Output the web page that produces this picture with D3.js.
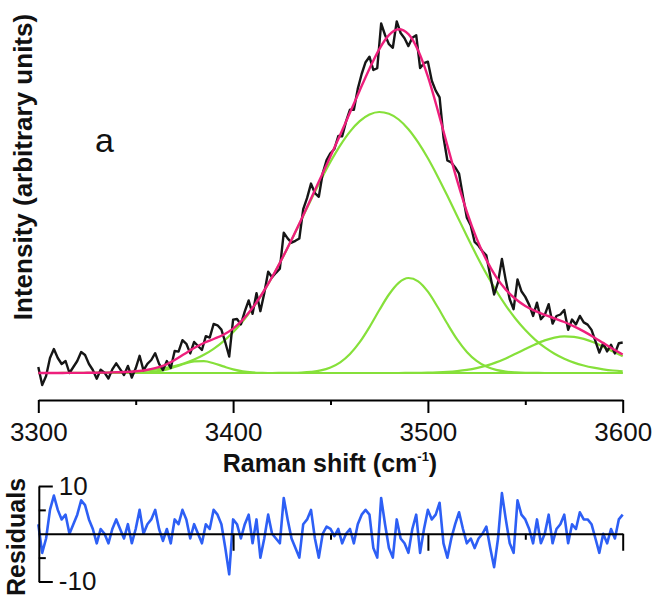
<!DOCTYPE html>
<html>
<head>
<meta charset="utf-8">
<script src="https://cdn.jsdelivr.net/npm/d3@7"></script>
<style>
  body { margin: 0; background: #fff; }
  svg { display: block; font-family: "Liberation Sans", Arial, Helvetica, sans-serif; }
</style>
</head>
<body>
<div id="chart"></div>
<script>
// measured spectrum, every 2 cm-1 from 3300 to 3600
const spectrumX = d3.range(3300, 3601, 2);
const spectrum = [
    6, -12, -3, 15, 24, 15, 9, 12, 0, 6,
    12, 21, 18, 9, 3, -5.7, 3.3, 0.4, -5.5, 3.6,
    9.7, 3.8, -2, 7.1, -4.5, 4.7, 17.2, 2.6, 9.2, 13,
    19.8, 9.1, 2.9, 12, 5, 22, 21.4, 32.8, 29.2, 19.6,
    31, 27, 23, 36.8, 35.4, 49, 47.7, 43.4, 30.5, 16.5,
    53.4, 54, 48.6, 61.7, 72.5, 59.2, 79.9, 61.8, 79.8, 101.2,
    95.8, 100.2, 104.3, 140.2, 134.6, 130.3, 132.2, 134.5, 163.8, 175.1,
    189.4, 179.8, 176.2, 199.7, 212.8, 219.8, 224, 237, 236.7, 251.6,
    263.4, 263.2, 284.1, 299, 310.8, 316.3, 303, 304.9, 349.5, 338,
    328.8, 325.2, 351.5, 340, 334.8, 326.9, 335.3, 337.8, 305, 309.8,
    311.3, 292.2, 282.4, 275.6, 235.8, 212.5, 210.6, 205.6, 199.3, 176.6,
    155.2, 147.6, 131, 127.3, 121.7, 117.6, 97.3, 78.5, 90.6, 114,
    92.4, 73.8, 63.8, 93.6, 81.8, 76.1, 68.1, 57.1, 70.3, 53.8,
    58.2, 68.8, 49.4, 57, 58.5, 63, 43.2, 53.5, 48.6, 57.1,
    50.6, 48.4, 43.1, 31.8, 20.4, 30, 21.6, 28.2, 19.6, 29.8,
    30.5
];
const residuals = [
    2, -4, -1, 5, 8, 5, 3, 4, 0, 2,
    4, 7, 6, 3, 1, -2, 1, 0, -2, 1,
    3, 1, -1, 2, -2, 1, 5, 0, 2, 3,
    5, 1, -1.5, 1, -2, 3, 2, 5, 3, -1,
    2, 0, -2, 2, 1, 5, 4, 2, -3, -8.5,
    3, 2, -1, 2, 4, -2, 3, -5, -1, 4,
    0, -1, -2, 7.5, 3, -1, -3, -5, 2, 3,
    5, -1, -5, 0, 1.5, 1, -0.5, 1, -2, 0,
    1, -2, 2, 4, 5, 4, -3, -5, 7.5, 2,
    -3, -5, 3, -1, -2, -4, 1, 4, -4, 1,
    5, 3, 4, 6.5, -2, -5, -1, 2, 4.5, 1,
    -2, -1, -3, -1, 0, 1.5, -3, -7, -1, 8.5,
    3, -2, -4, 7, 4, 3, 1, -2, 3, -2,
    0, 4, -2, 1, 2, 4, -2, 2, 1, 4.5,
    3, 3, 2, -1, -4, 0, -2, 1, -1, 3,
    4
];

// fitted components, every 5 cm-1
const componentX = d3.range(3300, 3601, 5);
const peakLow = [
    0, 0, 0, 0, 0, 0, 0, 0, 0, 0,
    0.1, 0.5, 1.4, 3.1, 6.0, 9.2, 11.6, 11.8, 9.8, 6.6,
    3.6, 1.6, 0.6, 0.2, 0, 0, 0, 0, 0, 0,
    0, 0, 0, 0, 0, 0, 0, 0, 0, 0,
    0, 0, 0, 0, 0, 0, 0, 0, 0, 0,
    0, 0, 0, 0, 0, 0, 0, 0, 0, 0,
    0
];
const peakMain = [
    0, 0, 0, 0.1, 0.1, 0.2, 0.3, 0.4, 0.7, 1.0,
    1.6, 2.3, 3.4, 4.9, 7.0, 9.8, 13.4, 18.2, 24.2, 31.7,
    40.8, 51.8, 64.6, 79.3, 95.8, 113.8, 133.1, 153.1, 173.2, 192.8,
    211.2, 227.6, 241.4, 251.8, 258.4, 261.0, 259.3, 253.5, 243.8, 230.6,
    214.7, 196.6, 177.2, 157.1, 137.0, 117.6, 99.3, 82.5, 67.4, 54.2,
    42.9, 33.4, 25.6, 19.3, 14.3, 10.4, 7.5, 5.3, 3.7, 2.5,
    1.7
];
const peakShoulder = [
    0, 0, 0, 0, 0, 0, 0, 0, 0, 0,
    0, 0, 0, 0, 0, 0, 0, 0, 0, 0,
    0, 0, 0, 0, 0, 0.1, 0.2, 0.5, 1.2, 2.6,
    5.6, 10.7, 19.0, 30.8, 45.9, 62.7, 78.5, 90.2, 95.0, 91.7,
    81.3, 66.0, 49.2, 33.6, 21.1, 12.1, 6.4, 3.1, 1.4, 0.6,
    0.2, 0.1, 0, 0, 0, 0, 0, 0, 0, 0,
    0
];
const peakHigh = [
    0, 0, 0, 0, 0, 0, 0, 0, 0, 0,
    0, 0, 0, 0, 0, 0, 0, 0, 0, 0,
    0, 0, 0, 0, 0, 0, 0, 0, 0, 0,
    0, 0, 0, 0, 0, 0, 0, 0, 0.1, 0.2,
    0.3, 0.6, 1.1, 1.9, 3.1, 4.9, 7.4, 10.6, 14.6, 19.2,
    24.0, 28.6, 32.6, 35.4, 36.7, 36.2, 34.1, 30.7, 26.3, 21.5,
    16.8
];

const xTicks = [3300, 3400, 3500, 3600];
const xMinorTicks = [3350, 3450, 3550];
const residualTicks = [10, -10];
const residualMinorTicks = [5, -5];

const config = {
    width       : 656,
    height      : 599,
    plotLeft    : 38.3,
    plotRight   : 622.7,
    baseline    : 373,
    plotTop     : 23,
    axisY       : 400,
    resTop      : 486,
    resBottom   : 581.5,
    lineWidth   : 2,
    spectrumColor : '#161616',
    fitColor    : '#ee1f7c',
    peakColor   : '#86e03a',
    residualColor : '#2d5ff5'
};

const svg = d3.select('#chart')
    .append('svg')
    .attr('width', config.width)
    .attr('height', config.height);

svg.append('rect')
    .attr('width', config.width)
    .attr('height', config.height)
    .attr('fill', '#fff');

const x = d3.scaleLinear()
    .domain([3300, 3600])
    .range([config.plotLeft, config.plotRight]);

const y = d3.scaleLinear()
    .domain([0, 350])
    .range([config.baseline, config.plotTop]);

const yRes = d3.scaleLinear()
    .domain([-10, 10])
    .range([config.resBottom, config.resTop]);

function styleAxis(g) {
    g.select('.domain').attr('stroke', '#000').attr('stroke-width', config.lineWidth);
    g.selectAll('.tick line').attr('stroke', '#000').attr('stroke-width', config.lineWidth);
    g.selectAll('.tick text')
        .attr('fill', '#111')
        .style('font-size', '26px')
        .style('font-family', '"Liberation Sans", Arial, sans-serif');
}

// top panel x axis
svg.append('g')
    .attr('transform', 'translate(0,' + config.axisY + ')')
    .call(d3.axisBottom(x).tickValues(xTicks).tickSize(13).tickSizeOuter(0).tickPadding(10).tickFormat(d3.format('d')))
    .call(styleAxis);

svg.append('g')
    .attr('transform', 'translate(0,' + config.axisY + ')')
    .call(d3.axisBottom(x).tickValues(xMinorTicks).tickSize(5).tickSizeOuter(0).tickFormat(''))
    .call(g => g.select('.domain').remove())
    .call(styleAxis);

// fit = sum of the components
const components = [peakLow, peakMain, peakShoulder, peakHigh];
const fitTotal = componentX.map((d, i) => d3.sum(components, c => c[i]));

const smoothLine = d3.line()
    .x((d, i) => x(componentX[i]))
    .y(d => y(d))
    .curve(d3.curveMonotoneX);

svg.append('g')
    .attr('class', 'components')
    .selectAll('path')
    .data(components)
    .join('path')
    .attr('d', smoothLine)
    .attr('fill', 'none')
    .attr('stroke', config.peakColor)
    .attr('stroke-width', 2.2);

svg.append('path')
    .datum(spectrum)
    .attr('d', d3.line().x((d, i) => x(spectrumX[i])).y(d => y(d)))
    .attr('fill', 'none')
    .attr('stroke', config.spectrumColor)
    .attr('stroke-width', 2.4)
    .attr('stroke-linejoin', 'round');

svg.append('path')
    .datum(fitTotal)
    .attr('d', smoothLine)
    .attr('fill', 'none')
    .attr('stroke', config.fitColor)
    .attr('stroke-width', 2.4);

// labels
svg.append('text')
    .attr('x', 95)
    .attr('y', 151.5)
    .style('font-size', '34px')
    .attr('fill', '#111')
    .text('a');

svg.append('text')
    .attr('transform', 'translate(32,167) rotate(-90)')
    .attr('text-anchor', 'middle')
    .style('font-size', '26px')
    .style('font-weight', 'bold')
    .attr('fill', '#111')
    .text('Intensity (arbitrary units)');

const xTitle = svg.append('text')
    .attr('x', 330)
    .attr('y', 471.5)
    .attr('text-anchor', 'middle')
    .style('font-size', '25px')
    .style('font-weight', 'bold')
    .attr('fill', '#111');
xTitle.append('tspan').text('Raman shift (cm');
xTitle.append('tspan').attr('dy', -11).style('font-size', '13px').text('-1');
xTitle.append('tspan').attr('dy', 11).text(')');

// residual panel
svg.append('path')
    .datum(residuals)
    .attr('d', d3.line().x((d, i) => x(spectrumX[i])).y(d => yRes(d)))
    .attr('fill', 'none')
    .attr('stroke', config.residualColor)
    .attr('stroke-width', 2.6)
    .attr('stroke-linejoin', 'round');

svg.append('g')
    .attr('transform', 'translate(0,' + yRes(0) + ')')
    .call(d3.axisBottom(x).tickValues([3400, 3500, 3600]).tickSize(17).tickSizeOuter(0).tickFormat(''))
    .call(styleAxis);

svg.append('g')
    .attr('transform', 'translate(0,' + yRes(0) + ')')
    .call(d3.axisBottom(x).tickValues([3450, 3550]).tickSize(6).tickSizeOuter(0).tickFormat(''))
    .call(g => g.select('.domain').remove())
    .call(styleAxis);

svg.append('g')
    .attr('transform', 'translate(' + (config.plotLeft + 0.5) + ',0)')
    .call(d3.axisRight(yRes).tickValues(residualTicks).tickSize(14).tickSizeOuter(0).tickPadding(6).tickFormat(d => String(d)))
    .call(styleAxis);

svg.append('g')
    .attr('transform', 'translate(' + (config.plotLeft + 0.5) + ',0)')
    .call(d3.axisRight(yRes).tickValues(residualMinorTicks).tickSize(7).tickSizeOuter(0).tickFormat(''))
    .call(g => g.select('.domain').remove())
    .call(styleAxis);

svg.append('text')
    .attr('transform', 'translate(25,537) rotate(-90)')
    .attr('text-anchor', 'middle')
    .style('font-size', '25px')
    .style('font-weight', 'bold')
    .attr('fill', '#111')
    .text('Residuals');
</script>
</body>
</html>
